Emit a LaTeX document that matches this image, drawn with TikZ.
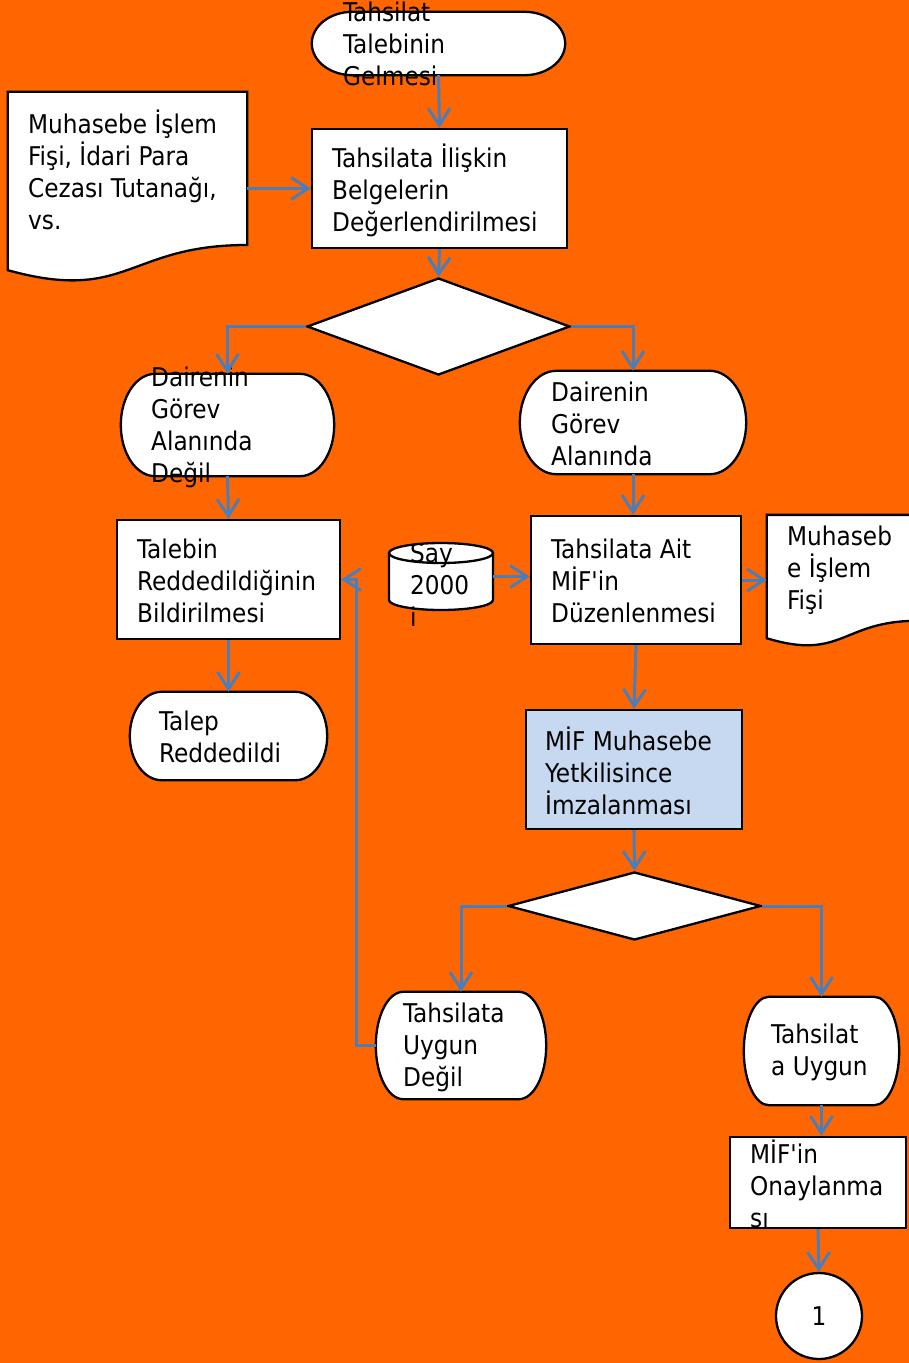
\documentclass[tikz,border=0pt]{standalone}
\usepackage{fontspec}
\newfontfamily\flowfont{DejaVu Sans Condensed}
\usetikzlibrary{shapes.geometric,arrows.meta,calc}
\definecolor{bgorange}{HTML}{FF6600}
\definecolor{flowblue}{HTML}{4A7EBB}
\definecolor{signblue}{HTML}{C6D9F1}
\tikzset{
  box/.style={draw=black, line width=2.3pt, fill=white, inner sep=0pt},
  hole/.style={inner sep=0pt, draw=none},
  txt/.style={anchor=west, align=left, inner sep=0pt,
    font=\flowfont\fontsize{25.8}{32}\selectfont},
  flow/.style={draw=flowblue, line width=3pt,
    -{Straight Barb[length=17pt,width=22pt,line width=3pt]}},
}
% terminator with elliptic ends
\newcommand\termshape[1]{%
  \draw[box] let \p1=(#1.north west), \p2=(#1.south east),
    \n1={0.161*(\x2-\x1)}, \n2={0.5*(\y1-\y2)} in
    (\x1+\n1,\y1) -- (\x2-\n1,\y1)
    arc[start angle=90, end angle=-90, x radius=\n1, y radius=\n2]
    -- (\x1+\n1,\y2)
    arc[start angle=270, end angle=90, x radius=\n1, y radius=\n2] -- cycle;}
% document with wavy bottom
\newcommand\docshape[1]{%
  \draw[box] let \p1=(#1.north west), \p2=(#1.south east),
    \n1={\y1-\y2}, \n2={0.5*(\x1+\x2)} in
    (\x1,\y1) -- (\x2,\y1) -- (\x2,\y1-0.802*\n1)
    .. controls (\n2,\y1-0.802*\n1) and (\n2,\y1-1.1075*\n1) ..
    (\x1,\y1-0.934*\n1) -- cycle;}
\begin{document}
\begin{tikzpicture}[x=1pt, y=-1pt]
  \useasboundingbox (0,0) rectangle (909,1363);
  \clip (0,0) rectangle (909,1363);
  \fill[bgorange] (0,0) rectangle (909,1363);

  % shapes
  \node[hole, minimum width=253pt, minimum height=63pt] (start) at (438.5,43.5) {};
  \node[box, minimum width=255pt, minimum height=119pt] (eval) at (439.5,188.5) {};
  \node[hole, minimum width=239pt, minimum height=190.6pt] (srcdoc) at (127.5,187.3) {};
  \node[box, diamond, minimum width=263pt, minimum height=97pt] (dec1) at (438.5,326.5) {};
  \node[hole, minimum width=213pt, minimum height=102pt] (notours) at (227.5,425) {};
  \node[hole, minimum width=226pt, minimum height=103pt] (ours) at (633,422.5) {};
  \node[box, minimum width=223pt, minimum height=119pt] (reject) at (228.5,579.5) {};
  \node[hole, minimum width=197pt, minimum height=88pt] (rejected) at (228.5,736) {};
  \node[box, minimum width=210pt, minimum height=128pt] (mif) at (636,580) {};
  \node[hole, minimum width=104pt, minimum height=67pt] (say) at (441,576.5) {};
  \node[hole, minimum width=150pt, minimum height=131.7pt] (outdoc) at (842,580.9) {};
  \node[box, fill=signblue, minimum width=216pt, minimum height=119pt] (sign) at (634,769.5) {};
  \node[box, diamond, minimum width=253pt, minimum height=68pt] (dec2) at (634.5,906) {};
  \node[hole, minimum width=170pt, minimum height=107pt] (notok) at (461,1045.5) {};
  \node[hole, minimum width=155pt, minimum height=108pt] (ok) at (821.5,1051) {};
  \node[box, minimum width=176pt, minimum height=91pt] (approve) at (818,1182.5) {};
  \node[box, circle, minimum size=86pt, font=\flowfont\fontsize{25.8}{32}\selectfont] (one) at (819,1316) {1};

  \termshape{start}
  \termshape{notours}
  \termshape{ours}
  \termshape{rejected}
  \termshape{notok}
  \termshape{ok}
  \docshape{srcdoc}
  \docshape{outdoc}
  \draw[box] (389,553) -- (389,600)
    arc[start angle=180, end angle=360, x radius=52pt, y radius=10pt]
    -- (493,553);
  \draw[box] (441,553) ellipse[x radius=52pt, y radius=10pt];

  % texts
  \node[txt] (start-t) at (343,44) {Tahsilat\\Talebinin\\Gelmesi};
  \node[txt] (eval-t) at (332,190) {Tahsilata İlişkin\\Belgelerin\\Değerlendirilmesi};
  \node[txt] (srcdoc-t) at (28,170) {Muhasebe İşlem\\Fişi, İdari Para\\Cezası Tutanağı,\\vs.};
  \node[txt] (notours-t) at (151,427) {Dairenin\\Görev\\Alanında\\Değil};
  \node[txt] (ours-t) at (551,424) {Dairenin\\Görev\\Alanında};
  \node[txt] (reject-t) at (137,581) {Talebin\\Reddedildiğinin\\Bildirilmesi};
  \node[txt] (rejected-t) at (159,737) {Talep\\Reddedildi};
  \node[txt] (mif-t) at (551,581) {Tahsilata Ait\\MİF'in\\Düzenlenmesi};
  \node[txt] (say-t) at (410,585) {Say\\2000\\i};
  \node[txt] (outdoc-t) at (787,570) {Muhaseb\\e İşlem\\Fişi};
  \node[txt] (sign-t) at (545,771) {MİF Muhasebe\\Yetkilisince\\İmzalanması};
  \node[txt] (notok-t) at (403,1047) {Tahsilata\\Uygun\\Değil};
  \node[txt] (ok-t) at (771,1052) {Tahsilat\\a Uygun};
  \node[txt] (approve-t) at (750,1184) {MİF'in\\Onaylanma\\sı};

  % connectors
  \draw[flow] (start.south) -- (eval.north);
  \draw[flow] (srcdoc.east |- eval.west) -- (eval.west);
  \draw[flow] (eval.south) -- (dec1.north);
  \draw[flow] (dec1.west) -| (notours.north);
  \draw[flow] (dec1.east) -| (ours.north);
  \draw[flow] (notours.south) -- (reject.north);
  \draw[flow] (reject.south) -- (rejected.north);
  \draw[flow] (ours.south) -- (ours.south |- mif.north);
  \draw[flow] (say.east) -- (say.east -| mif.west);
  \draw[flow] (mif.east) -- (mif.east -| outdoc.west);
  \draw[flow] (mif.south) -- (sign.north);
  \draw[flow] (sign.south) -- (dec2.north);
  \draw[flow] (dec2.west) -| (notok.north);
  \draw[flow] (dec2.east) -| (ok.north);
  \draw[flow] (notok.west) -- ++(-19,0) |- (reject.east);
  \draw[flow] (ok.south) -- (ok.south |- approve.north);
  \draw[flow] (approve.south) -- (one.north);
\end{tikzpicture}
\end{document}
